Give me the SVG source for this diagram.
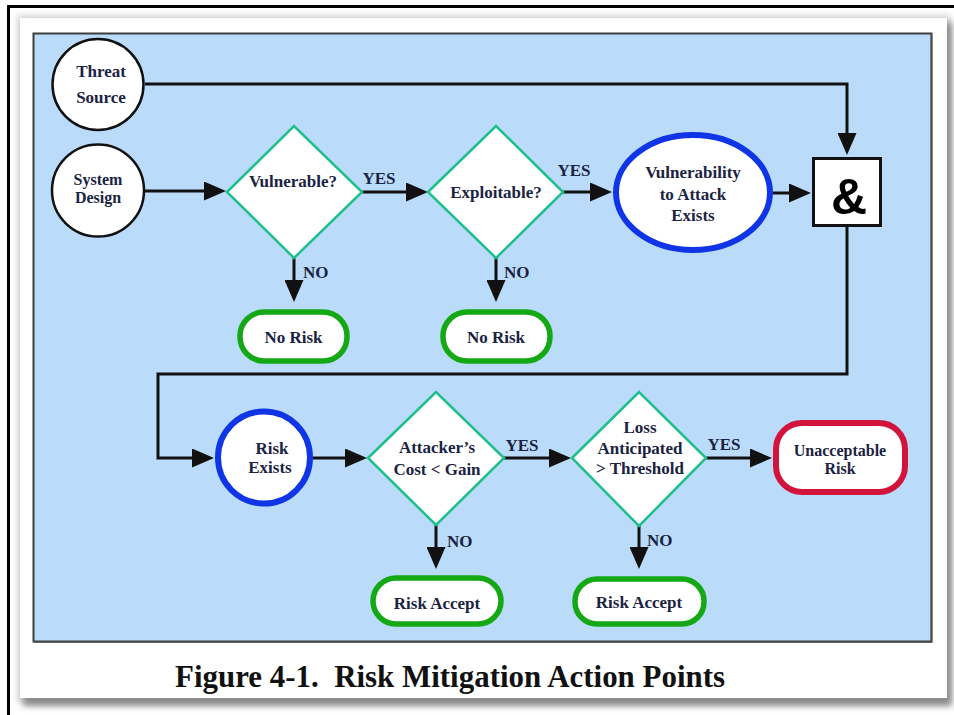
<svg xmlns="http://www.w3.org/2000/svg" width="954" height="715" viewBox="0 0 954 715">
  <style>
    .t { font-family: "Liberation Serif", "Times New Roman", serif; font-weight: bold; font-size: 17px; fill: #1b2342; text-anchor: middle; }
    .sm { font-size: 16px; }
    .lbl { font-family: "Liberation Serif", "Times New Roman", serif; font-weight: bold; font-size: 17px; fill: #1b2342; }
    .start { text-anchor: start; }
    .src { fill: #ffffff; stroke: #111111; stroke-width: 2.5; }
    .dec { fill: #ffffff; stroke: #1fbf8c; stroke-width: 2.5; stroke-linejoin: miter; }
    .term { fill: #ffffff; stroke: #14a814; stroke-width: 5.5; }
    .state { fill: #ffffff; stroke: #1035e6; stroke-width: 6; }
    .bad { fill: #ffffff; stroke: #d2143c; stroke-width: 6; }
    .wire { fill: none; stroke: #111111; stroke-width: 3; marker-end: url(#head); }
  </style>
  <defs>
    <marker id="head" viewBox="0 0 22 19" refX="10" refY="9.5" markerWidth="22" markerHeight="19" markerUnits="userSpaceOnUse" orient="auto">
      <path d="M0,0 L22,9.5 L0,19 Z" fill="#111111"/>
    </marker>
    <filter id="soft" x="-5%" y="-5%" width="110%" height="110%">
      <feGaussianBlur stdDeviation="3"/>
    </filter>
  </defs>

  <!-- page background and frame -->
  <rect x="0" y="0" width="954" height="715" fill="#ffffff"/>
  <path d="M8.5,715 V6.5 H954" fill="none" stroke="#000000" stroke-width="3"/>
  <rect x="17" y="15" width="933" height="687" fill="#d8d8d8" filter="url(#soft)"/>
  <rect x="23" y="22" width="929" height="684" fill="#8c8c8c" filter="url(#soft)"/>
  <rect x="20" y="18" width="927" height="680" fill="#ffffff"/>

  <!-- diagram panel -->
  <rect x="33.5" y="33.5" width="898" height="608" fill="#badcfa" stroke="#3c3c3c" stroke-width="2"/>
  <path d="M931.5,34 V642 H34" fill="none" stroke="#4a4a4a" stroke-width="1.5"/>

  <!-- connectors -->
  <g id="connectors">
    <path class="wire" d="M145,84 H847 V143"/>
    <path class="wire" d="M145,191 H214"/>
    <path class="wire" d="M362,192 H416"/>
    <path class="wire" d="M563,192 H600"/>
    <path class="wire" d="M773,193 H799"/>
    <path class="wire" d="M294,258 V290"/>
    <path class="wire" d="M496,258 V290"/>
    <path class="wire" d="M847,227 V374 H158 V458 H202"/>
    <path class="wire" d="M313,458 H355"/>
    <path class="wire" d="M504,458 H559"/>
    <path class="wire" d="M706,458 H760"/>
    <path class="wire" d="M436,525 V557"/>
    <path class="wire" d="M639,526 V557"/>
    <text class="t" x="379" y="184">YES</text>
    <text class="t" x="574" y="176">YES</text>
    <text class="lbl start" x="303" y="278">NO</text>
    <text class="lbl start" x="504" y="278">NO</text>
    <text class="t" x="522" y="451">YES</text>
    <text class="t" x="724" y="450">YES</text>
    <text class="lbl start" x="447" y="547">NO</text>
    <text class="lbl start" x="647" y="546">NO</text>
  </g>

  <!-- inputs -->
  <g id="threat-source">
    <circle class="src" cx="98" cy="84.5" r="45.5"/>
    <text class="t" x="101" y="77">Threat</text>
    <text class="t" x="101" y="103">Source</text>
  </g>
  <g id="system-design">
    <circle class="src" cx="98" cy="190.5" r="46"/>
    <text class="t sm" x="98" y="185">System</text>
    <text class="t sm" x="98" y="203">Design</text>
  </g>

  <!-- first-stage decisions -->
  <g id="vulnerable">
    <polygon class="dec" points="227,192 294,126 362,192 294,258"/>
    <text class="t" x="293" y="187">Vulnerable?</text>
  </g>
  <g id="exploitable">
    <polygon class="dec" points="428,192 496,126 563,192 496,258"/>
    <text class="t" x="496" y="198">Exploitable?</text>
  </g>
  <g id="no-risk-1">
    <rect class="term" x="240" y="312" width="107" height="49" rx="24" ry="24"/>
    <text class="t" x="293.5" y="343">No Risk</text>
  </g>
  <g id="no-risk-2">
    <rect class="term" x="443" y="312" width="107" height="49" rx="24" ry="24"/>
    <text class="t" x="496" y="343">No Risk</text>
  </g>
  <g id="vulnerability-exists">
    <ellipse class="state" cx="693" cy="192.5" rx="77" ry="57.5"/>
    <text class="t" x="693" y="178">Vulnerability</text>
    <text class="t" x="693" y="200">to Attack</text>
    <text class="t" x="693" y="221">Exists</text>
  </g>
  <g id="and-gate">
    <rect x="813.5" y="158.5" width="67" height="67" fill="#ffffff" stroke="#111111" stroke-width="3"/>
    <text x="849" y="214" text-anchor="middle" font-family="'Liberation Sans', Arial, sans-serif" font-weight="bold" font-size="50" fill="#000000">&amp;</text>
  </g>

  <!-- second-stage decisions -->
  <g id="risk-exists">
    <circle class="state" cx="264" cy="457.5" r="46"/>
    <text class="t" x="272" y="454">Risk</text>
    <text class="t" x="270" y="473">Exists</text>
  </g>
  <g id="cost-gain">
    <polygon class="dec" points="368,458 436,392 504,458 436,525"/>
    <text class="t" x="437" y="453">Attacker’s</text>
    <text class="t" x="437" y="475">Cost &lt; Gain</text>
  </g>
  <g id="loss-threshold">
    <polygon class="dec" points="572,458 639,392 706,458 639,526"/>
    <text class="t" x="640" y="433">Loss</text>
    <text class="t" x="640" y="454">Anticipated</text>
    <text class="t" x="640" y="474">&gt; Threshold</text>
  </g>
  <g id="risk-accept-1">
    <rect class="term" x="373" y="578" width="128" height="46" rx="23" ry="23"/>
    <text class="t" x="437" y="609">Risk Accept</text>
  </g>
  <g id="risk-accept-2">
    <rect class="term" x="575" y="579" width="129" height="45" rx="22" ry="22"/>
    <text class="t" x="639" y="608">Risk Accept</text>
  </g>
  <g id="unacceptable-risk">
    <rect class="bad" x="776" y="423" width="129" height="69" rx="26" ry="26"/>
    <text class="t sm" x="840" y="456">Unacceptable</text>
    <text class="t sm" x="840" y="474">Risk</text>
  </g>

  <!-- caption -->
  <text x="175" y="687" font-family="'Liberation Serif', 'Times New Roman', serif" font-weight="bold" font-size="31" fill="#111111" textLength="550" lengthAdjust="spacingAndGlyphs" style="white-space:pre">Figure 4-1.  Risk Mitigation Action Points</text>
</svg>
